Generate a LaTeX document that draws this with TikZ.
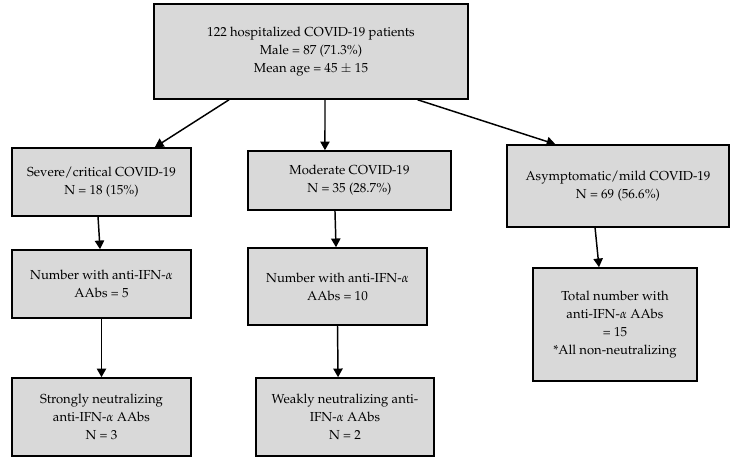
\documentclass[tikz,border=0pt]{standalone}
\usepackage[T1]{fontenc}
\usepackage{amsmath, xcolor, amssymb, graphicx, tikz}
\usepackage{mathpazo}
\usetikzlibrary{shapes.geometric, arrows, arrows.meta}

\begin{document}
\begin{tikzpicture}[x=0.75pt, y=-0.75pt]
		\tikzstyle{Group} = [rectangle, text centered, align=center, draw=black, line width=1.2pt, fill=black!15, font=\fontsize{9.8}{13.6}\selectfont, inner sep=2pt]
		\tikzstyle{arrow} = [line width=1.1pt,-{Triangle[length=6.5pt,width=7pt]}]
		
		\useasboundingbox (0,0) rectangle (732,464);
		
		\node (patients) [Group, minimum width=235.5pt, minimum height=71.25pt] at (311,51.5)
			{122 hospitalized COVID-19 patients\\ Male = 87 (71.3\%)\\ Mean age = 45 $\pm$ 15};
		\node (severe) [Group, minimum width=134.25pt, minimum height=51pt] at (101.5,182)
			{Severe/critical COVID-19\\ N = 18 (15\%)};
		\node (moderate) [Group, minimum width=152.25pt, minimum height=44.25pt] at (349.5,180.5)
			{Moderate COVID-19\\ N = 35 (28.7\%)};
		\node (mild) [Group, minimum width=166.5pt, minimum height=61.5pt] at (618,186)
			{Asymptomatic/mild COVID-19\\ N = 69 (56.6\%)};
		\node (severeAAbs) [Group, minimum width=134.25pt, minimum height=51pt] at (101.5,284)
			{Number with anti-IFN-$\alpha$\\ AAbs = 5};
		\node (moderateAAbs) [Group, minimum width=134.25pt, minimum height=57.75pt] at (337.5,286.5)
			{Number with anti-IFN-$\alpha$\\ AAbs = 10};
		\node (mildAAbs) [Group, minimum width=123pt, minimum height=84.75pt] at (615,324.5)
			{Total number with\\ anti-IFN-$\alpha$ AAbs\\ = 15\\ *All non-neutralizing};
		\node (strongNode) [Group, minimum width=134.25pt, minimum height=58.5pt] at (101.5,417)
			{Strongly neutralizing\\ anti-IFN-$\alpha$ AAbs\\ N = 3};
		\node (weakNode) [Group, minimum width=133.5pt, minimum height=58.5pt] at (345,417)
			{Weakly neutralizing anti-\\ IFN-$\alpha$ AAbs\\ N = 2};
		
		\draw [arrow] ([xshift=-61.5pt]patients.south) -- ([xshift=40pt]severe.north);
		\draw [arrow] ([xshift=10.5pt]patients.south) -- ([xshift=-18.4pt]moderate.north);
		\draw [arrow] ([xshift=80pt]patients.south) -- ([xshift=-47pt]mild.north);
		\draw [arrow] ([xshift=-2.6pt]severe.south) -- ([xshift=-1.1pt]severeAAbs.north);
		\draw [arrow] ([xshift=-10.9pt]moderate.south) -- ([xshift=-1.1pt]moderateAAbs.north);
		\draw [arrow] ([xshift=-17.2pt]mild.south) -- ([xshift=-12pt]mildAAbs.north);
		\draw [arrow] (severeAAbs.south) -- (strongNode.north);
		\draw [arrow] (moderateAAbs.south) -- ([xshift=-5.2pt]weakNode.north);
		\end{tikzpicture}
\end{document}
